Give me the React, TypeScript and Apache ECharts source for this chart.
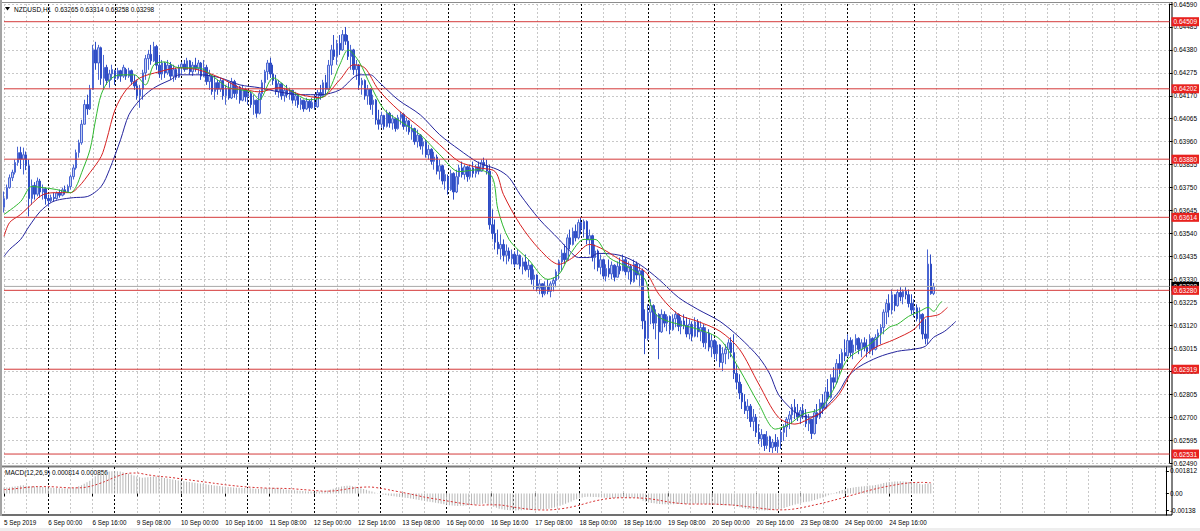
import React, { useEffect, useRef } from "react";
import * as echarts from "echarts";

// ---- tick labels (every 16 H1 bars) ----
const TICK_LABELS = [
  "5 Sep 2019", "6 Sep 00:00", "6 Sep 16:00", "9 Sep 08:00", "10 Sep 00:00", "10 Sep 16:00",
  "11 Sep 08:00", "12 Sep 00:00", "12 Sep 16:00", "13 Sep 08:00", "16 Sep 00:00", "16 Sep 16:00",
  "17 Sep 08:00", "18 Sep 00:00", "18 Sep 16:00", "19 Sep 08:00", "20 Sep 00:00", "20 Sep 16:00",
  "23 Sep 08:00", "24 Sep 00:00", "24 Sep 16:00",
];

// ---- candles, [open, high, low, close] in 1e-5 units, per trading day ----
const D05 = [
  [63660,63732,63636,63700],[63700,63764,63695,63750],[63750,63810,63745,63795],[63795,63832,63780,63820],
  [63820,63878,63810,63865],[63865,63937,63850,63910],[63910,63937,63835,63880],[63880,63933,63810,63900],
  [63900,63915,63830,63850],[63850,63878,63618,63700],[63700,63787,63672,63760],[63760,63775,63695,63720],
  [63720,63796,63710,63780],[63780,63790,63704,63730],[63730,63764,63695,63745],[63745,63750,63672,63700],
];
const D06 = [
  [63700,63718,63663,63690],[63690,63718,63682,63705],[63705,63727,63686,63700],[63700,63732,63695,63725],
  [63725,63741,63704,63715],[63715,63750,63710,63740],[63740,63759,63718,63730],[63730,63764,63727,63755],
  [63755,63810,63741,63800],[63800,63855,63787,63840],[63840,63924,63832,63910],[63910,63969,63887,63955],
  [63955,64060,63946,64040],[64040,64152,64038,64130],[64130,64175,64083,64110],[64110,64220,64105,64200],
  [64200,64403,64197,64380],[64380,64417,64289,64320],[64320,64403,64243,64390],[64390,64395,64220,64250],
  [64250,64357,64197,64300],[64300,64312,64220,64240],[64240,64289,64207,64270],[64270,64312,64243,64290],
];
const D09 = [
  [64285,64289,64220,64250],[64250,64298,64243,64285],[64285,64289,64234,64260],[64260,64312,64252,64300],
  [64290,64298,64243,64260],[64260,64298,64252,64285],[64285,64290,64220,64235],[64235,64266,64197,64215],
  [64215,64243,64152,64170],[64170,64220,64115,64200],[64200,64289,64152,64275],[64275,64357,64243,64340],
  [64340,64380,64289,64360],[64360,64403,64312,64330],[64330,64417,64325,64395],[64395,64403,64289,64310],
  [64310,64357,64252,64270],[64270,64334,64243,64320],[64320,64325,64252,64275],[64275,64334,64266,64310],
  [64310,64325,64243,64260],[64260,64312,64234,64290],[64290,64298,64243,64255],[64255,64312,64252,64300],
];
const D10 = [
  [64300,64325,64266,64315],[64315,64334,64280,64290],[64290,64344,64289,64330],[64330,64334,64266,64280],
  [64280,64325,64261,64310],[64310,64344,64280,64295],[64295,64334,64270,64320],[64320,64325,64243,64260],
  [64260,64334,64255,64300],[64300,64312,64220,64235],[64235,64289,64197,64260],[64260,64266,64175,64190],
  [64190,64252,64152,64230],[64230,64243,64175,64200],[64200,64252,64188,64240],[64240,64243,64152,64170],
  [64170,64220,64129,64205],[64205,64234,64152,64160],[64160,64252,64155,64235],[64235,64243,64161,64180],
  [64180,64220,64152,64210],[64210,64215,64134,64150],[64150,64220,64145,64200],[64200,64207,64143,64165],
];
const D11 = [
  [64165,64197,64129,64180],[64180,64188,64115,64130],[64130,64175,64083,64150],[64150,64152,64070,64090],
  [64090,64197,64085,64180],[64180,64243,64152,64230],[64230,64289,64197,64280],[64280,64334,64243,64320],
  [64320,64344,64252,64270],[64270,64312,64220,64240],[64240,64266,64175,64190],[64190,64243,64161,64225],
  [64225,64230,64152,64170],[64170,64207,64143,64195],[64195,64220,64161,64175],[64175,64207,64152,64195],
  [64195,64197,64134,64150],[64150,64188,64124,64170],[64170,64175,64115,64130],[64130,64161,64106,64150],
  [64150,64152,64097,64110],[64110,64161,64106,64145],[64145,64152,64097,64115],[64115,64161,64110,64140],
];
const D12 = [
  [64140,64175,64106,64120],[64120,64197,64115,64185],[64185,64220,64152,64170],[64170,64243,64165,64230],
  [64230,64266,64175,64200],[64200,64334,64195,64310],[64310,64403,64266,64380],[64380,64448,64334,64350],
  [64350,64426,64312,64410],[64410,64448,64357,64380],[64380,64471,64375,64450],[64450,64485,64403,64420],
  [64420,64448,64334,64350],[64350,64403,64289,64380],[64380,64385,64266,64290],[64290,64334,64243,64310],
  [64310,64315,64197,64220],[64220,64252,64175,64240],[64240,64245,64152,64170],[64170,64220,64129,64200],
  [64200,64205,64106,64130],[64130,64175,64083,64150],[64150,64155,64038,64060],[64060,64106,64015,64040],
];
const D13 = [
  [64040,64097,64024,64080],[64080,64083,64015,64030],[64030,64106,64025,64090],[64090,64097,64024,64045],
  [64045,64083,64015,64065],[64065,64070,64006,64020],[64020,64083,64015,64070],[64070,64097,64038,64085],
  [64085,64090,64015,64030],[64030,64070,64006,64055],[64055,64060,63992,64005],[64005,64038,63969,64020],
  [64020,64024,63946,63960],[63960,64015,63933,63990],[63990,63995,63924,63940],[63940,63978,63901,63960],
  [63960,63969,63887,63900],[63900,63946,63878,63925],[63925,63930,63855,63870],[63870,63914,63832,63890],
  [63890,63901,63810,63825],[63825,63878,63787,63850],[63850,63855,63764,63780],[63780,63832,63741,63810],
];
const D16 = [
  [63800,63810,63718,63740],[63740,63832,63735,63815],[63815,63820,63695,63730],[63730,63832,63725,63800],
  [63800,63855,63764,63840],[63840,63869,63796,63810],[63810,63855,63787,63845],[63845,63850,63777,63800],
  [63800,63855,63787,63840],[63840,63869,63796,63815],[63815,63855,63796,63845],[63845,63869,63810,63825],
  [63825,63878,63823,63865],[63865,63887,63832,63850],[63850,63878,63810,63825],[63825,63855,63558,63580],
  [63580,63650,63513,63540],[63540,63604,63467,63500],[63500,63558,63444,63470],[63470,63536,63421,63490],
  [63490,63513,63412,63440],[63440,63490,63399,63460],[63460,63476,63412,63425],[63425,63467,63399,63445],
];
const D17 = [
  [63445,63458,63385,63400],[63400,63467,63399,63440],[63440,63444,63376,63390],[63390,63430,63353,63410],
  [63410,63444,63367,63375],[63375,63421,63339,63395],[63395,63399,63307,63330],[63330,63376,63284,63350],
  [63350,63353,63275,63290],[63290,63330,63262,63310],[63310,63312,63248,63265],[63265,63321,63257,63300],
  [63300,63330,63262,63275],[63275,63321,63248,63310],[63310,63339,63275,63325],[63325,63376,63294,63365],
  [63365,63421,63330,63410],[63410,63467,63367,63450],[63450,63490,63399,63420],[63420,63536,63415,63520],
  [63520,63558,63467,63490],[63490,63567,63485,63550],[63550,63581,63504,63520],[63520,63604,63513,63590],
];
const D18 = [
  [63590,63613,63536,63560],[63560,63604,63522,63595],[63595,63600,63490,63510],[63510,63558,63444,63530],
  [63530,63535,63412,63430],[63430,63490,63376,63460],[63460,63467,63367,63385],[63385,63444,63353,63420],
  [63420,63425,63330,63345],[63345,63399,63321,63380],[63380,63421,63339,63355],[63355,63412,63330,63395],
  [63395,63399,63321,63340],[63340,63412,63339,63390],[63390,63430,63353,63370],[63370,63444,63367,63420],
  [63420,63430,63348,63365],[63365,63412,63330,63390],[63390,63399,63307,63320],[63320,63421,63315,63400],
  [63400,63412,63330,63350],[63350,63399,63294,63370],[63370,63380,63102,63140],[63140,63193,62988,63060],
];
const D19 = [
  [63060,63216,63050,63180],[63180,63239,63125,63210],[63210,63216,63102,63130],[63130,63193,63056,63170],
  [63170,63175,62965,63090],[63090,63193,63085,63170],[63170,63184,63111,63130],[63130,63170,63093,63160],
  [63160,63165,63079,63100],[63100,63170,63095,63150],[63150,63184,63111,63170],[63170,63175,63093,63115],
  [63115,63157,63079,63140],[63140,63170,63102,63120],[63120,63157,63065,63080],[63080,63148,63056,63125],
  [63125,63138,63047,63070],[63070,63157,63065,63135],[63135,63148,63065,63090],[63090,63138,63047,63110],
  [63110,63125,63020,63040],[63040,63111,63011,63085],[63085,63102,63001,63020],[63020,63079,62974,63050],
];
const D20 = [
  [63050,63056,62965,62990],[62990,63047,62956,63030],[63030,63033,62928,62950],[62950,63020,62910,62990],
  [62990,63033,62942,63010],[63010,63056,62965,63040],[63040,63065,62974,62995],[62995,63079,62874,62900],
  [62900,62942,62828,62860],[62860,62896,62782,62810],[62810,62851,62737,62770],[62770,62805,62714,62730],
  [62730,62782,62691,62750],[62750,62760,62654,62680],[62680,62737,62636,62700],[62700,62714,62609,62630],
  [62630,62668,62577,62600],[62600,62645,62563,62620],[62620,62622,62545,62570],[62570,62636,62554,62610],
  [62610,62615,62540,62560],[62560,62600,62536,62585],[62585,62622,62545,62565],[62565,62609,62536,62595],
];
const D23 = [
  [62590,62645,62554,62630],[62630,62668,62591,62655],[62655,62700,62609,62690],[62690,62728,62645,62710],
  [62710,62760,62668,62745],[62745,62782,62691,62720],[62720,62760,62682,62700],[62700,62746,62668,62730],
  [62730,62760,62691,62710],[62710,62737,62654,62670],[62670,62714,62636,62690],[62690,62691,62600,62625],
  [62625,62737,62620,62720],[62720,62760,62668,62700],[62700,62782,62691,62765],[62765,62805,62714,62740],
  [62740,62837,62737,62815],[62815,62874,62773,62790],[62790,62896,62785,62880],[62880,62928,62828,62860],
  [62860,62965,62851,62945],[62945,62988,62896,62920],[62920,63011,62915,62995],[62995,63056,62956,62980],
];
const D24 = [
  [62980,63079,62975,63050],[63050,63065,62974,62995],[62995,63056,62965,63030],[63030,63079,63001,63060],
  [63060,63065,62988,63010],[63010,63056,62974,63040],[63040,63065,63001,63020],[63020,63056,62974,63000],
  [63000,63079,62988,63060],[63060,63065,62983,63010],[63010,63079,63005,63065],[63065,63102,63020,63085],
  [63085,63125,63033,63110],[63110,63193,63079,63180],[63180,63239,63125,63220],[63220,63262,63157,63190],
  [63190,63284,63170,63260],[63260,63262,63184,63210],[63210,63284,63205,63270],[63270,63294,63230,63250],
  [63250,63284,63216,63275],[63275,63294,63239,63260],[63260,63284,63202,63220],[63220,63262,63170,63190],
];
const D25 = [
  [63190,63239,63157,63200],[63200,63216,63138,63150],[63150,63202,63102,63170],[63170,63175,63056,63080],
  [63080,63148,63033,63060],[63060,63467,63033,63400],[63400,63444,63260,63265],[63265,63314,63258,63298],
];

// ---- Alligator lines, [bar index, value 1e-5] ----
const LIPS = [[0,63627],[6,63686],[10,63755],[14,63750],[19,63741],[24,63727],[26,63755],[28,63819],[31,63924],[33,64060],[35,64175],[38,64243],[42,64266],[47,64266],[51,64220],[54,64312],[58,64325],[63,64298],[70,64298],[76,64252],[81,64207],[89,64188],[92,64152],[97,64252],[103,64197],[110,64152],[116,64175],[121,64312],[124,64380],[128,64325],[132,64220],[137,64106],[142,64060],[150,63992],[157,63901],[164,63823],[171,63832],[176,63796],[178,63650],[182,63513],[189,63421],[196,63330],[200,63353],[204,63444],[209,63513],[213,63513],[218,63430],[225,63385],[231,63330],[233,63216],[236,63157],[243,63125],[250,63102],[258,63056],[265,62919],[272,62760],[278,62645],[283,62668],[288,62714],[294,62737],[299,62828],[304,62965],[312,63033],[319,63111],[322,63125],[326,63161],[330,63184],[333,63202],[335,63184],[337,63216],[338,63230]];
const TEETH = [[0,63527],[2,63590],[6,63627],[9,63663],[14,63718],[20,63727],[24,63727],[27,63755],[31,63819],[35,63892],[37,63969],[40,64106],[44,64197],[49,64252],[56,64280],[63,64298],[70,64289],[78,64252],[85,64207],[92,64188],[99,64207],[107,64175],[114,64161],[121,64243],[126,64312],[130,64298],[135,64197],[142,64106],[150,64024],[157,63946],[164,63869],[171,63841],[177,63823],[180,63718],[186,63581],[193,63467],[200,63399],[205,63430],[211,63490],[216,63467],[223,63412],[231,63366],[236,63262],[243,63170],[250,63138],[258,63093],[265,63011],[272,62851],[279,62700],[285,62668],[290,62691],[295,62728],[301,62805],[306,62919],[313,63011],[321,63056],[328,63102],[332,63157],[334,63161],[337,63170],[340,63202]];
const JAW = [[0,63435],[2,63467],[6,63513],[9,63572],[13,63640],[17,63682],[20,63695],[25,63704],[30,63709],[35,63755],[38,63832],[42,63969],[45,64083],[49,64152],[53,64197],[56,64220],[60,64243],[63,64266],[71,64266],[78,64252],[85,64220],[92,64207],[99,64188],[107,64175],[114,64175],[121,64197],[128,64266],[132,64266],[135,64234],[142,64152],[150,64083],[157,63992],[164,63924],[171,63864],[178,63832],[182,63796],[186,63718],[193,63604],[200,63513],[204,63458],[207,63430],[211,63430],[214,63449],[222,63440],[229,63399],[236,63330],[243,63248],[250,63193],[258,63138],[265,63065],[272,62974],[276,62896],[279,62805],[283,62746],[286,62714],[290,62700],[294,62714],[297,62759],[301,62819],[304,62883],[308,62929],[315,62974],[322,63001],[328,63011],[332,63024],[335,63065],[339,63093],[343,63138]];

// ---- MACD(12,26,9), 1e-5 units ----
const MACD_HIST = [
  45,47,50,53,56,60,63,66,62,60,58,56,55,53,52,50,
  48,46,44,43,42,41,40,40,42,45,50,57,66,78,90,102,120,138,152,162,170,175,178,180,
  181,180,177,172,166,159,152,145,137,130,127,128,131,134,136,136,133,129,125,121,117,113,109,105,
  101,98,95,92,89,86,83,80,77,74,71,68,65,62,59,56,53,51,49,47,46,45,44,44,
  44,42,40,37,36,37,40,44,46,45,43,40,37,34,32,30,28,26,24,22,20,18,16,15,
  14,14,15,17,19,23,30,38,44,50,56,60,62,61,58,54,48,42,36,29,22,15,8,1,
  -5,-10,-13,-17,-20,-23,-26,-29,-32,-35,-38,-42,-46,-50,-54,-58,-62,-65,-68,-72,-76,-80,-84,-88,
  -92,-95,-98,-100,-101,-100,-99,-98,-96,-94,-92,-89,-86,-83,-80,-88,-98,-108,-116,-123,-128,-132,-135,-137,
  -138,-138,-137,-136,-134,-133,-133,-132,-132,-131,-130,-128,-126,-123,-119,-114,-108,-100,-92,-83,-74,-65,-56,-47,
  -40,-33,-29,-27,-27,-28,-29,-31,-33,-35,-36,-37,-38,-38,-37,-36,-35,-35,-36,-36,-36,-37,-48,-60,
  -68,-73,-77,-80,-84,-86,-87,-88,-88,-88,-87,-86,-86,-85,-85,-85,-85,-84,-84,-84,-85,-86,-87,-88,
  -90,-91,-93,-95,-96,-96,-96,-98,-102,-107,-112,-117,-121,-125,-128,-131,-134,-136,-137,-138,-137,-136,-134,-132,
  -128,-123,-117,-110,-102,-95,-89,-83,-77,-72,-68,-65,-60,-54,-47,-40,-32,-24,-15,-6,3,11,19,27,
  34,39,43,47,51,54,56,58,61,63,65,68,72,78,84,88,92,94,96,97,98,97,95,92,
  90,87,84,78,72,78,80,81,
];
const MACD_SIGNAL = [[0,30],[4,38],[8,48],[12,55],[16,55],[20,50],[24,45],[28,46],[32,62],[36,92],[40,130],[44,160],[48,165],[52,150],[56,138],[60,130],[64,118],[68,106],[72,94],[76,82],[80,70],[84,60],[88,52],[92,46],[96,42],[100,41],[104,38],[108,31],[112,24],[116,18],[120,22],[124,36],[128,48],[132,52],[136,42],[140,25],[144,8],[148,-10],[152,-30],[156,-45],[160,-60],[164,-75],[168,-88],[172,-95],[176,-92],[180,-95],[184,-110],[188,-123],[192,-132],[196,-134],[200,-128],[204,-115],[208,-95],[212,-70],[216,-50],[220,-38],[224,-35],[228,-36],[232,-40],[236,-52],[240,-68],[244,-80],[248,-86],[252,-86],[256,-86],[260,-90],[264,-95],[268,-105],[272,-115],[276,-127],[280,-133],[284,-130],[288,-117],[292,-98],[296,-78],[300,-55],[304,-30],[308,-5],[312,20],[316,42],[320,60],[324,76],[328,87],[332,89],[335,86]];

// ---- horizontal levels ----
const LEVELS = [64509, 64202, 63880, 63614, 63280, 62919, 62531];
const BID = 63298;
const MACD_TICKS = [0.001812, 0, -0.00138];
const MACD_TICK_TEXT = ["0.001812", "0.00", "-0.00138"];

const N_SLOTS = 421;
const FONT = "Liberation Sans";
const LEVEL_RED = "#d43a3a";

export default function App() {
  const ref = useRef<HTMLDivElement>(null);
  useEffect(() => {
    const chart = echarts.init(ref.current as HTMLDivElement, null, { renderer: "svg" });
    const candles = [...D05, ...D06, ...D09, ...D10, ...D11, ...D12, ...D13, ...D16, ...D17, ...D18, ...D19, ...D20, ...D23, ...D24, ...D25];
    const nBars = candles.length;
    const cats = Array.from({ length: N_SLOTS }, (_, i) => String(i));
    const sc = (v: number) => v / 1e5;
    const pairs = (arr: number[][]) => arr.map(([i, v]) => [i, sc(v)]);

    const gridSplit = (idx: number) => idx % 8 === 0;
    const daySplit = (idx: number) => idx >= 16 && idx <= 328 && (idx - 16) % 24 === 0;
    const grayLine = { show: true, interval: gridSplit, lineStyle: { color: "#c8c8c8", width: 1, type: [2, 2] } };
    const blackLine = { show: true, interval: daySplit, lineStyle: { color: "#000", width: 1, type: [2, 2] } };
    const hiddenAxis = { axisLine: { show: false }, axisTick: { show: false }, axisLabel: { show: false } };

    const levelSeries = (v: number, lineColor: string, bg: string, z: number) => ({
      type: "line", xAxisIndex: 0, yAxisIndex: 0, z, silent: true,
      data: [[0, sc(v)], [N_SLOTS - 1, sc(v)]],
      showSymbol: false, symbol: "none",
      lineStyle: { color: lineColor, width: 1, type: "solid" },
      itemStyle: { color: lineColor },
      endLabel: {
        show: true, distance: 2, color: "#fff", backgroundColor: bg,
        fontSize: 6.5, fontFamily: FONT, padding: [1, 2, 1, 2],
        formatter: () => sc(v).toFixed(5),
      },
      emphasis: { disabled: true },
    });

    const option: any = {
      animation: false,
      backgroundColor: "#ffffff",
      textStyle: { fontFamily: FONT },
      grid: [
        { left: 4, right: 29, top: 4, height: 459 },
        { left: 4, right: 29, top: 467, height: 48 },
      ],
      xAxis: [
        { gridIndex: 0, type: "category", data: cats, boundaryGap: false, ...hiddenAxis, splitLine: grayLine },
        { gridIndex: 0, type: "category", data: cats, boundaryGap: false, ...hiddenAxis, splitLine: blackLine },
        {
          gridIndex: 1, type: "category", data: cats, boundaryGap: false,
          axisLine: { show: false },
          axisTick: { show: true, interval: (i: number) => i % 16 === 0 && i < nBars, length: 3, lineStyle: { color: "#000" } },
          axisLabel: {
            show: true, interval: (i: number) => i % 16 === 0 && i < nBars,
            formatter: (_v: string, i: number) => TICK_LABELS[i / 16] ?? "",
            align: "left", fontSize: 6.3, color: "#000", margin: 4, fontFamily: FONT,
          },
          splitLine: grayLine,
        },
        { gridIndex: 1, type: "category", data: cats, boundaryGap: false, ...hiddenAxis, splitLine: blackLine },
      ],
      yAxis: [
        {
          gridIndex: 0, type: "value", position: "right", min: 0.6249, max: 0.6459, interval: 0.00105,
          axisLine: { show: true, lineStyle: { color: "#000" } },
          axisTick: { show: true, length: 3, lineStyle: { color: "#000" } },
          axisLabel: { fontSize: 6.5, color: "#000", margin: 4, fontFamily: FONT, formatter: (v: number) => v.toFixed(5) },
          splitLine: { show: true, lineStyle: { color: "#c8c8c8", width: 1, type: [2, 2] } },
        },
        {
          gridIndex: 1, type: "value", position: "right", min: -0.001744, max: 0.002135,
          axisLine: { show: true, lineStyle: { color: "#000" } },
          axisTick: { show: true, length: 3, customValues: MACD_TICKS, lineStyle: { color: "#000" } },
          axisLabel: {
            fontSize: 6.5, color: "#000", margin: 4, fontFamily: FONT, customValues: MACD_TICKS,
            formatter: (v: number) => {
              const k = MACD_TICKS.findIndex((t) => Math.abs(t - v) < 1e-7);
              return k >= 0 ? MACD_TICK_TEXT[k] : "";
            },
          },
          splitLine: { show: false },
        },
      ],
      series: [
        {
          type: "candlestick", xAxisIndex: 0, yAxisIndex: 0, barWidth: 2,
          data: candles.map(([o, h, l, c]) => [sc(o), sc(c), sc(l), sc(h)]),
          itemStyle: { color: "#c2ccf2", color0: "#3552c8", borderColor: "#4a66d2", borderColor0: "#2e4cc4", borderWidth: 1 },
        },
        { type: "line", xAxisIndex: 0, yAxisIndex: 0, data: pairs(JAW), showSymbol: false, smooth: 0.3, lineStyle: { color: "#24249c", width: 1 }, z: 3 },
        { type: "line", xAxisIndex: 0, yAxisIndex: 0, data: pairs(TEETH), showSymbol: false, smooth: 0.3, lineStyle: { color: "#d62020", width: 1 }, z: 3 },
        { type: "line", xAxisIndex: 0, yAxisIndex: 0, data: pairs(LIPS), showSymbol: false, smooth: 0.3, lineStyle: { color: "#2fb82f", width: 1 }, z: 3 },
        levelSeries(BID, "#a8a8a8", "#000", 4),
        ...LEVELS.map((v) => levelSeries(v, LEVEL_RED, "#e8221f", 5)),
        {
          type: "bar", xAxisIndex: 2, yAxisIndex: 1, barWidth: 1,
          data: MACD_HIST.map(sc), itemStyle: { color: "#b8b8b8" },
        },
        {
          type: "line", xAxisIndex: 2, yAxisIndex: 1, data: pairs(MACD_SIGNAL), showSymbol: false, smooth: 0.3,
          lineStyle: { color: "#d63030", width: 1, type: [2, 2] },
        },
      ],
      graphic: [
        { type: "rect", shape: { x: 0, y: 0, width: 2, height: 516 }, style: { fill: "#a4a4a4" }, silent: true },
        { type: "line", shape: { x1: 2, y1: 2.5, x2: 1172, y2: 2.5 }, style: { stroke: "#8c8c8c", lineWidth: 1 }, silent: true },
        { type: "rect", shape: { x: 2, y: 465.5, width: 1170, height: 2 }, style: { fill: "#7a7a7a" }, silent: true },
        { type: "line", shape: { x1: 2, y1: 515, x2: 1172, y2: 515 }, style: { stroke: "#404040", lineWidth: 1.5 }, silent: true },
        { type: "line", shape: { x1: 1172, y1: 2, x2: 1172, y2: 515 }, style: { stroke: "#000", lineWidth: 1 }, silent: true },
        { type: "rect", shape: { x: 0, y: 528, width: 1200, height: 3 }, style: { fill: "#eeeeee" }, silent: true },
        { type: "polygon", shape: { points: [[5, 7], [10, 7], [7.5, 10.5]] }, style: { fill: "#000" }, silent: true },
        {
          type: "text", x: 14, y: 9, silent: true,
          style: { text: "NZDUSD,H1  0.63265 0.63314 0.63258 0.63298", fontSize: 6.5, fontFamily: FONT, fill: "#000", verticalAlign: "middle" },
        },
        {
          type: "text", x: 5, y: 472, silent: true,
          style: { text: "MACD(12,26,9) 0.000814 0.000856", fontSize: 6.5, fontFamily: FONT, fill: "#000", verticalAlign: "middle" },
        },
      ],
    };
    chart.setOption(option);
    return () => chart.dispose();
  }, []);
  return <div ref={ref} style={{ position: "fixed", left: 0, top: 0, width: 1200, height: 531, background: "#fff" }} />;
}
